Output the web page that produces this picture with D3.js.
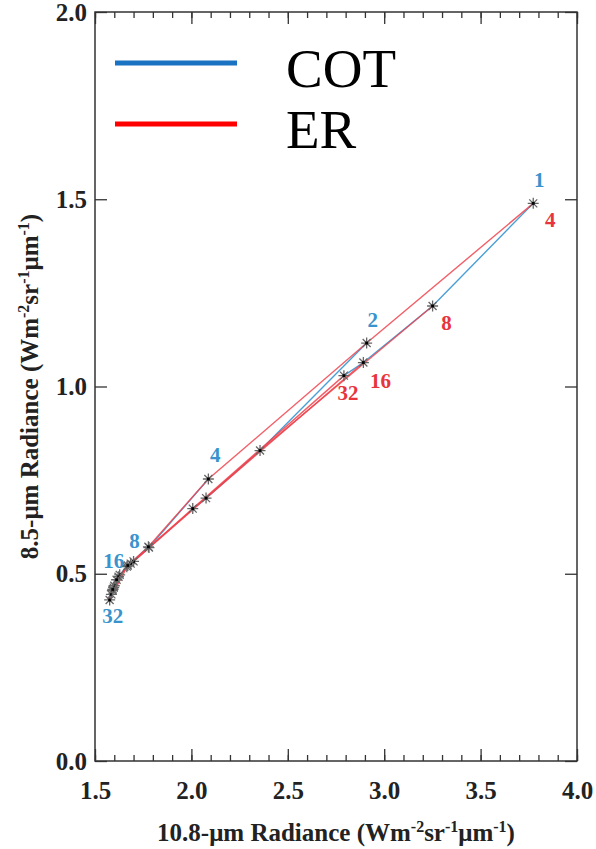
<!DOCTYPE html>
<html>
<head>
<meta charset="utf-8">
<script src="https://cdn.jsdelivr.net/npm/d3@7"></script>
<style>
  body { margin: 0; background: #fff; }
  svg { display: block; }
  .tick-label { font-family: "Liberation Serif", serif; font-weight: bold; font-size: 25px; fill: #222; }
  .axis-title { font-family: "Liberation Serif", serif; font-weight: bold; font-size: 25px; fill: #222; }
  .pt-label { font-family: "Liberation Serif", serif; font-weight: bold; font-size: 21px; }
</style>
</head>
<body>
<div id="chart"></div>
<script>
// cloud optical thickness (rows) and effective radius (columns)
const cotValues = [1, 2, 4, 8, 16, 32];
const erValues = [4, 8, 16, 32];

// 10.8-um radiance, rows = COT, columns = ER
const rad108 = [
    [3.773, 3.251, 2.892, 2.791],
    [2.909, 2.356, 2.076, 2.007],
    [2.088, 1.780, 1.700, 1.685],
    [1.777, 1.665, 1.628, 1.622],
    [1.670, 1.612, 1.600, 1.597],
    [1.576, 1.585, 1.590, 1.592]
];
// 8.5-um radiance, rows = COT, columns = ER
const rad85 = [
    [1.489, 1.215, 1.064, 1.029],
    [1.116, 0.829, 0.702, 0.674],
    [0.753, 0.570, 0.533, 0.527],
    [0.572, 0.519, 0.497, 0.492],
    [0.522, 0.484, 0.468, 0.463],
    [0.430, 0.445, 0.455, 0.458]
];

const xTicks = [1.5, 2.0, 2.5, 3.0, 3.5, 4.0];
const yTicks = [0.0, 0.5, 1.0, 1.5, 2.0];
const legendNames = ["COT", "ER"];

const width = 596;
const height = 849;
const margin = {top: 12, right: 19, bottom: 88, left: 95};

const blueLine = "#4a9fd6";
const redLine = "#f0434e";
const blueText = "#3a93cc";
const redText = "#e8343c";

const svg = d3.select("#chart")
    .append("svg")
    .attr("width", width)
    .attr("height", height);

const x = d3.scaleLinear()
    .domain([1.5, 4.0])
    .range([margin.left, width - margin.right]);

const y = d3.scaleLinear()
    .domain([0, 2])
    .range([height - margin.bottom, margin.top]);

const fmt = d3.format(".1f");
const minorX = d3.range(15, 41).map(d => d / 10);

// minor ticks (x only), bottom and top
svg.append("g")
    .attr("transform", `translate(0,${y(0)})`)
    .call(d3.axisBottom(x).tickValues(minorX).tickSize(-6).tickFormat(""))
    .call(g => g.select(".domain").remove());
svg.append("g")
    .attr("transform", `translate(0,${y(2)})`)
    .call(d3.axisTop(x).tickValues(minorX).tickSize(-6).tickFormat(""))
    .call(g => g.select(".domain").remove());

// major ticks
svg.append("g")
    .attr("transform", `translate(0,${y(0)})`)
    .call(d3.axisBottom(x).tickValues(xTicks).tickSize(-12).tickPadding(20).tickFormat(fmt))
    .call(g => g.select(".domain").remove())
    .call(g => g.selectAll("text").attr("class", "tick-label").attr("dy", "0.71em"));
svg.append("g")
    .attr("transform", `translate(0,${y(2)})`)
    .call(d3.axisTop(x).tickValues(xTicks).tickSize(-12).tickFormat(""))
    .call(g => g.select(".domain").remove());
svg.append("g")
    .attr("transform", `translate(${x(1.5)},0)`)
    .call(d3.axisLeft(y).tickValues(yTicks).tickSize(-12).tickPadding(8).tickFormat(fmt))
    .call(g => g.select(".domain").remove())
    .call(g => g.selectAll("text").attr("class", "tick-label"));
svg.append("g")
    .attr("transform", `translate(${x(4.0)},0)`)
    .call(d3.axisRight(y).tickValues(yTicks).tickSize(-12).tickFormat(""))
    .call(g => g.select(".domain").remove());

svg.selectAll(".tick line").attr("stroke", "#333").attr("stroke-width", 1.3);

// frame
svg.append("rect")
    .attr("x", x(1.5))
    .attr("y", y(2))
    .attr("width", x(4.0) - x(1.5))
    .attr("height", y(0) - y(2))
    .attr("fill", "none")
    .attr("stroke", "#333")
    .attr("stroke-width", 1.5);

// axis titles
const xt = svg.append("text")
    .attr("class", "axis-title")
    .attr("x", (x(1.5) + x(4.0)) / 2)
    .attr("y", 841)
    .attr("text-anchor", "middle");
xt.append("tspan").text("10.8-\u03bcm Radiance (Wm");
xt.append("tspan").attr("dy", -9).attr("font-size", 16).text("-2");
xt.append("tspan").attr("dy", 9).text("sr");
xt.append("tspan").attr("dy", -9).attr("font-size", 16).text("-1");
xt.append("tspan").attr("dy", 9).text("\u03bcm");
xt.append("tspan").attr("dy", -9).attr("font-size", 16).text("-1");
xt.append("tspan").attr("dy", 9).text(")");

const yt = svg.append("text")
    .attr("class", "axis-title")
    .attr("transform", `translate(38,${(y(0) + y(2)) / 2}) rotate(-90)`)
    .attr("text-anchor", "middle");
yt.append("tspan").text("8.5-\u03bcm Radiance (Wm");
yt.append("tspan").attr("dy", -9).attr("font-size", 16).text("-2");
yt.append("tspan").attr("dy", 9).text("sr");
yt.append("tspan").attr("dy", -9).attr("font-size", 16).text("-1");
yt.append("tspan").attr("dy", 9).text("\u03bcm");
yt.append("tspan").attr("dy", -9).attr("font-size", 16).text("-1");
yt.append("tspan").attr("dy", 9).text(")");

// grid points
const points = [];
cotValues.forEach((c, i) => {
    erValues.forEach((r, j) => {
        points.push({cot: c, er: r, i: i, j: j, x: rad108[i][j], y: rad85[i][j]});
    });
});

const line = d3.line().x(d => x(d.x)).y(d => y(d.y));

// blue: constant COT, ER varying
svg.append("g")
    .selectAll("path")
    .data(cotValues.map((c, i) => points.filter(p => p.i === i)))
    .join("path")
    .attr("d", line)
    .attr("fill", "none")
    .attr("stroke", blueLine)
    .attr("stroke-width", 1.4);

// red: constant ER, COT varying
svg.append("g")
    .selectAll("path")
    .data(erValues.map((r, j) => points.filter(p => p.j === j)))
    .join("path")
    .attr("d", line)
    .attr("fill", "none")
    .attr("stroke", redLine)
    .attr("stroke-opacity", 0.85)
    .attr("stroke-width", 1.4);

// asterisk markers
const star = svg.append("g")
    .selectAll("g")
    .data(points)
    .join("g")
    .attr("transform", d => `translate(${x(d.x)},${y(d.y)})`);
star.append("path")
    .attr("d", "M-5.5,0H5.5M0,-5.5V5.5M-4,-4L4,4M-4,4L4,-4")
    .attr("stroke", "#666")
    .attr("stroke-width", 1.3);
star.append("rect")
    .attr("x", -1.4)
    .attr("y", -1.4)
    .attr("width", 2.8)
    .attr("height", 2.8)
    .attr("fill", "#000");

// COT labels along ER=4, ER labels along COT=1
const cotLabelOffsets = [[6, -16], [6, -16], [7, -17], [-14, 1], [-14, 2], [3, 23]];
const erLabelOffsets = [[17, 24], [14, 24], [17, 25], [4, 24]];

svg.append("g")
    .selectAll("text")
    .data(points.filter(p => p.j === 0))
    .join("text")
    .attr("class", "pt-label")
    .attr("x", (d, k) => x(d.x) + cotLabelOffsets[k][0])
    .attr("y", (d, k) => y(d.y) + cotLabelOffsets[k][1])
    .attr("text-anchor", "middle")
    .attr("fill", blueText)
    .text(d => d.cot);

svg.append("g")
    .selectAll("text")
    .data(points.filter(p => p.i === 0))
    .join("text")
    .attr("class", "pt-label")
    .attr("x", (d, k) => x(d.x) + erLabelOffsets[k][0])
    .attr("y", (d, k) => y(d.y) + erLabelOffsets[k][1])
    .attr("text-anchor", "middle")
    .attr("fill", redText)
    .text(d => d.er);

// legend
const legend = svg.append("g")
    .selectAll("g")
    .data(legendNames)
    .join("g")
    .attr("transform", (d, k) => `translate(0,${63 + k * 61})`);
legend.append("line")
    .attr("x1", 115)
    .attr("x2", 237)
    .attr("stroke", (d, k) => k === 0 ? "#1a72c2" : "#ff0000")
    .attr("stroke-width", 5);
legend.append("text")
    .attr("x", 286)
    .attr("y", 24)
    .attr("font-family", "Liberation Serif, serif")
    .attr("font-size", 55)
    .attr("fill", "#000")
    .text(d => d);
</script>
</body>
</html>
